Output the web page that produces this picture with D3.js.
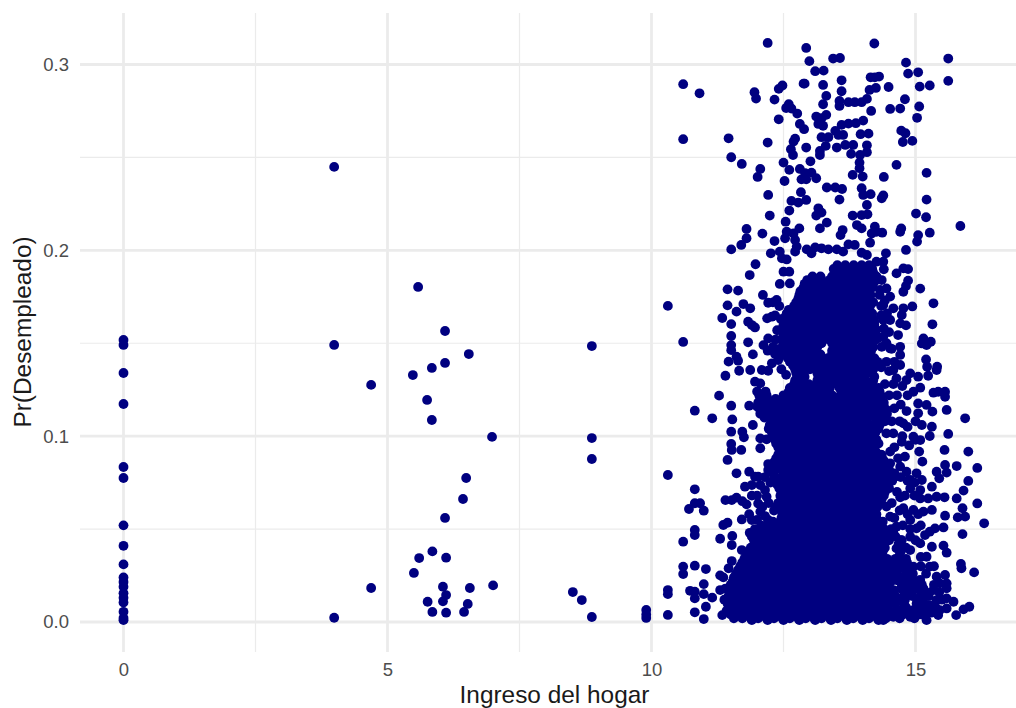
<!DOCTYPE html>
<html lang="es">
<head>
<meta charset="UTF-8">
<title>Pr(Desempleado)</title>
<script src="https://d3js.org/d3.v7.min.js"></script>
<style>
    html, body { margin: 0; padding: 0; background: white; overflow: hidden; }
    svg { display: block; font-family: "Liberation Sans", Arial, sans-serif; }
    .tick text { fill: #4d4d4d; font-size: 18.5px; }
</style>
</head>
<body>
<svg id="chart" width="1016" height="708"></svg>
<script>
// ticks
const xMajor = [0, 5, 10, 15];
const xMinor = [2.5, 7.5, 12.5];
const yMajor = [0, 0.1, 0.2, 0.3];
const yMinor = [0.05, 0.15, 0.25];

// households reporting zero income
const zeroIncome = [.1518,.1491,.134,.1173,.0834,.0775,.052,.041,.031,.024,.0215,.019,.0155,.013,.0105,.0055,.0022,.001];

// income, probability pairs
const sparsePoints = [
[3.99,.2449],[3.99,.1491],[3.99,.0023],[4.69,.1276],[4.69,.0183],[5.58,.1803],[5.48,.1329],[5.75,.1195],[5.84,.1087],[5.84,.1367],
[6.09,.1566],[6.09,.1394],[6.54,.1442],[6.98,.0996],[6.49,.0775],[6.43,.0662],[6.09,.056],[5.85,.038],[5.6,.0344],[6.11,.0346],
[5.5,.0264],[6.05,.019],[6.56,.0183],[7,.0197],[6.11,.0145],[6.05,.0111],[5.76,.0109],[6.52,.0097],[6.45,.0054],[5.85,.0054],[6.11,.005],
[8.51,.0161],[8.68,.0118],[8.87,.0027],[8.87,.1485],[8.87,.099],[8.87,.0877],[9.9,.0065],[9.9,.004],[9.9,.0022],
[10.31,.1701],[10.31,.0791],[10.31,.0172],[10.31,.015],[10.31,.0038]
];

const cloudTop = [
[12.2,.3116],[12.93,.3089],[12.99,.3018],[13.44,.3032],[13.57,.3035],[14.22,.3113],[14.82,.301],[15.62,.3032],[14.86,.2951],[15.05,.2958],
[13.1,.2964],[13.26,.2967],[15.62,.2912],[10.6,.2894],[10.91,.2845],[13.6,.2915],[12.88,.2897],[12.9,.2897],[13.25,.289],[12.48,.2887],
[12.41,.2869],[14.15,.2931],[14.31,.2935],[14.23,.2931],[14.49,.2879],[15.08,.2881],[15.27,.2887],[14.25,.2874],[14.13,.2863],[11.95,.2851],
[11.98,.2817],[12.33,.2811],[13.6,.2856],[13.31,.2831],[12.6,.2786],[12.55,.2766],[12.65,.2763],[12.76,.2736],[13.25,.2786],[13.56,.2804],
[13.56,.2777],[13.73,.2797],[13.85,.2797],[13.98,.2797],[14.08,.2815],[14.16,.275],[14.52,.2761],[14.71,.2763],[14.8,.2813],[15.07,.2774],
[15.03,.2713],[12.41,.2705],[13.12,.272],[13.31,.2729],[13.22,.2711],[13.16,.268],[13.25,.267],[12.81,.268],[12.89,.2652],[13.6,.2675],
[13.73,.2682],[13.87,.2684],[14.01,.2698],[13.48,.2643],[13.63,.2621],[13.54,.2621],[13.96,.2625],[14.11,.2628],[14.73,.2644],[14.81,.263],
[14.76,.2583],[14.94,.2589],[10.6,.2598],[11.46,.2603],[12.2,.258],[12.72,.2601],[12.69,.2585],[12.93,.2553],[13.22,.2609],[13.35,.2609],
[13.3,.2562],[13.51,.2553],[13.67,.2567],[13.82,.2567],[14.08,.2565],[12.64,.2544],[12.68,.2513],[13.19,.2513],[13.19,.2535],[13.78,.2519],
[14.08,.2528],[13.95,.2513],[11.51,.2501],[11.71,.2465],[12.06,.2438],[12.01,.2395],[12.5,.2472],[12.61,.2433],[13.01,.2479],[12.81,.2438],
[12.91,.2415],[13.03,.2418],[13.12,.2388],[12.84,.2382],[12.93,.2382],[12.52,.2373],[13.94,.2472],[13.94,.2442],[13.81,.2406],[14,.2397],
[14.64,.246],[14.4,.2395],[15.21,.2417],[12.21,.2298],[13.32,.2338],[13.48,.2338],[13.61,.233],[13.98,.2334],[14.01,.2298],[14.15,.2302],
[14.39,.2295],[14.36,.228],[15.21,.2273],[12.83,.2313],[12.65,.2266],[12.93,.2271],[12.78,.2257],[12.61,.2214],[13.56,.2273],[14.08,.2244],
[13.16,.2226],[13.22,.2203],[13.12,.2187],[12.24,.2187],[13.81,.2187],[13.98,.219],[14.09,.2194],[15.01,.2198],[15.2,.2178]
];

const cloudMiddle = [
[12.54,.2154],[11.8,.2115],[12.1,.209],[11.8,.2065],[11.7,.2029],[11.51,.2005],[12.33,.205],[12.56,.21],[12.53,.2065],[12.69,.2091],
[12.8,.2118],[12.72,.2056],[12.75,.202],[12.26,.1984],[12.43,.1993],[12.47,.1957],[12.56,.1951],[12.72,.1993],[13.19,.2118],[13.32,.2149],
[13.62,.2109],[13.58,.2082],[13.89,.2136],[13.98,.2118],[14.23,.2127],[14.17,.2091],[14.37,.2095],[14.26,.21],[14.14,.2041],[14.73,.2118],
[14.71,.21],[15.05,.2082],[15.03,.2047],[15.27,.2095],[15.85,.2131],[12.94,.2005],[13.03,.1984],[13.1,.2016],[13.22,.2011],[13.35,.2005],
[13.51,.2005],[13.63,.1993],[13.73,.2032],[13.85,.2029],[13.98,.1987],[14.08,.1975],[14.44,.1984],[14.82,.2002],[14.26,.1939],[14.39,.1939],
[14.4,.1898],[14.64,.1876],[14.77,.1903],[14.86,.1899],[14.86,.1837],[14.82,.1808],[14.77,.1777],[15.09,.1794],[11.97,.1925],[11.86,.1867],
[12.5,.1885],[12.61,.1885],[11.44,.179],[11.64,.1783],[12.11,.176],[12.43,.1819],[12.62,.1822],[11.44,.1704],[11.34,.1636],[11.51,.1603],
[11.61,.167],[11.74,.1711],[11.87,.1688],[11.83,.1616],[11.96,.1585],[11.9,.1598],[12.21,.1718],[12.37,.1733],[12.19,.1634],[12.28,.1643],
[15.34,.1715],[15.32,.1602],[14.94,.1698],[14.77,.1688],[14.74,.1652],[14.71,.1607],[14.82,.1596],[15.15,.1526],[15.29,.1508],[15.12,.1499],
[15.21,.149],[15.2,.1413],[15.22,.1374],[15.4,.1356],[15.24,.1325],[15.41,.1374],[10.6,.1507],[11.51,.1539],[11.51,.149],[11.51,.1463],
[11.83,.1505],[11.61,.1428],[11.46,.1401],[11.64,.1406],[11.66,.1352],[11.4,.1325],[11.92,.144],[11.87,.1356],[11.96,.1293],[12.06,.1284],
[12.09,.1356],[12.21,.1352],[12.12,.149],[12.21,.1526],[12.34,.1442],[12.28,.1392],[11.28,.1218],[11.51,.1164],[11.85,.1164],[10.82,.1137],
[11.15,.1096],[11.53,.109],[15.59,.1141],[15.94,.1096],[15.34,.1234],[15.56,.1239],[15.56,.1212],[15.43,.1239],[15.05,.1176],[15.21,.1168],
[15.32,.1132],[15.05,.1123],[14.83,.1135],[14.96,.1239],[15.09,.1261],[14.9,.1338],[15.05,.132],[14.83,.1302],[14.64,.1311],[14.58,.1356],
[14.71,.1383],[14.67,.1544],[14.71,.1481],[14.71,.1437],[14.52,.1472],[14.39,.1535],[14.36,.1481],[14.36,.184],[14.45,.1795],[14.33,.1787],
[14.52,.1751],[14.39,.1706],[14.58,.1688],[14.39,.1625],[14.52,.1625],[14.26,.1571]
];

const cloudLower = [
[11.92,.106],[11.51,.1024],[11.51,.0958],[11.52,.0926],[11.7,.0926],[11.44,.0872],[11.72,.1024],[11.75,.0994],[12.06,.0988],[12.18,.0983],
[12.06,.0935],[12.21,.085],[12.21,.0818],[11.61,.08],[11.85,.0809],[11.96,.0782],[12.02,.0782],[11.77,.0728],[11.9,.0737],[12.06,.0737],
[12.15,.071],[12.18,.0674],[11.4,.0656],[11.52,.0656],[11.61,.0669],[11.8,.0633],[12.02,.0638],[12.06,.0594],[11.9,.0549],[11.71,.0552],
[12.21,.0549],[11.36,.0522],[11.44,.0534],[10.82,.0714],[10.82,.0639],[10.71,.0608],[10.99,.0599],[10.92,.0639],[10.82,.0495],[10.82,.0468],
[11.3,.0448],[10.6,.0432],[11.53,.0463],[11.52,.0414],[11.71,.0387],[11.52,.0328],[10.6,.0298],[10.6,.0258],[10.82,.0303],[11.03,.0285],
[11.3,.0251],[11.46,.0289],[10.99,.0204],[10.73,.0168],[10.82,.0163],[10.99,.015],[10.82,.0127],[11.15,.0131],[11.3,.0172],[11.03,.0082],
[10.82,.0052],[10.99,.0016],[11.34,.0037],[15.62,.1012],[15.55,.0926],[16,.0917],[16.17,.0829],[16,.0759],[15.78,.0839],[15.56,.0845],
[15.4,.0809],[15.59,.0804],[15.45,.0773],[15.91,.0707],[15.78,.0665],[15.55,.0671],[16.17,.0638],[15.89,.0612],[15.8,.0563],[15.94,.0567],
[15.56,.0572],[16.3,.0531],[15.89,.0473],[15.53,.0509],[15.37,.0504],[15.27,.0486],[15.31,.0405],[15.53,.0411],[15.59,.0373],[15.86,.0312],
[15.87,.0289],[16.11,.0267],[15.56,.0253],[15.59,.0208],[15.59,.0181],[15.59,.0127],[15.72,.0109],[16.02,.0082],[15.91,.0068],[15.77,.0037],
[15.43,.0037],[15.21,.001],[15.31,.1051],[15.27,.1001],[15.09,.0979],[14.96,.0997],[14.74,.097],[14.58,.1015],[14.45,.1015],[14.26,.0979],
[14.77,.1069],[15.12,.106],[15.07,.0917],[15.13,.0863],[14.8,.089],[14.67,.0881],[14.52,.0917],[14.36,.0899],[14.39,.0872],[14.52,.0854],
[14.71,.0836],[14.83,.0809],[15.02,.08],[15.12,.0764],[14.9,.0764],[15.31,.0728],[15.09,.071],[14.9,.0719],[14.71,.0671],[15.09,.0665],
[15.24,.0665],[15.4,.0674],[15.31,.0603],[15.15,.0594],[14.96,.0603],[14.77,.0612],[14.9,.0549],[14.52,.0567],[14.45,.0621],[15.02,.0504],
[15.18,.0468],[14.9,.0459],[14.64,.0513],[15.09,.0423],[14.9,.0387],[14.64,.0396],[15.21,.0351],[15.27,.0298],[15.4,.0244],[15.46,.0208],
[15.34,.0172],[14.96,.0298],[14.71,.0333],[14.77,.0244],[15.09,.0226],[14.96,.0172],[14.64,.0226],[14.58,.0172],[15.4,.0118],[15.27,.0091],
[15.09,.0109],[14.96,.0064],[15.21,.0046],[14.9,.0028],[14.71,.0064],[14.58,.0028],[14.39,.001],[15.46,.0064],[15.59,.0073]
];

// crowded flanks of the cloud, estimated
const cloudFlanks = [
[12.3,.172],[12.42,.17],[12.34,.165],[12.45,.163],[12.38,.157],[12.35,.152],[12.42,.147],[12.3,.148],[12.4,.141],[12.46,.136],[12.55,.133],[12.2,.146],
[14.32,.176],[14.42,.173],[14.35,.17],[14.46,.166],[14.35,.165],[14.4,.158],[14.5,.156],[14.3,.153],[14.45,.15],[14.55,.147],[14.6,.14],[14.45,.14],
[14.5,.135],[14.35,.137],[14.58,.128],[14.42,.128],[14.5,.122],[14.65,.122],[14.75,.127],[14.6,.115],[14.72,.117],[14.85,.122],[14.55,.108],[14.7,.108],
[14.85,.105],[15,.108],[14.6,.094],[14.75,.1],[14.88,.095],[15,.098],[14.6,.078],[14.72,.078],[14.85,.076],[14.98,.075],[14.65,.07],[14.8,.068],
[14.98,.068],[14.55,.064],[14.7,.06],[14.85,.058],[15.05,.058],[14.6,.056],[14.76,.052],[14.9,.05],[15.1,.052],[14.72,.044],[14.82,.04],[15,.044],
[15.1,.035],[14.95,.026],[15.1,.03],[15.2,.026],[14.98,.02],[15.15,.018],[15.25,.014],[15.35,.02],[15.05,.012],[15.3,.005],[15.38,.008],[15.5,.012],
[15.45,.016],[15.2,.008],[15.12,.004],[15.35,.03],[12.15,.078],[12.25,.075],[11.9,.068],[12.1,.062],[12,.068],[12.22,.064],[11.72,.065],[11.85,.058],
[12,.055],[12.15,.057],[11.4,.018],[11.38,.012],[11.42,.006],[11.36,.024]
];

// solid core of the cloud, points can't be told apart here so these are estimates: [y, x, x, ...]
const coreRows = [
[.192,13.52,13.67,13.83,13.98,14.12],
[.19,13.45,13.6,13.75,13.9,14.05,14.18],
[.188,13.47,13.6,13.75,13.9,14.05,14.2],
[.186,13.05,13.2,13.42,13.55,13.7,13.85,14,14.14,14.26],
[.184,12.95,13.1,13.22,13.37,13.52,13.68,13.82,13.97,14.1,14.26],
[.182,12.9,13.02,13.16,13.3,13.44,13.6,13.74,13.9,14.04,14.2],
[.18,12.88,13.03,13.18,13.3,13.45,13.6,13.75,13.9,14.04,14.18],
[.178,12.82,12.96,13.12,13.26,13.38,13.52,13.68,13.82,13.96,14.12],
[.176,12.8,12.95,13.1,13.25,13.4,13.55,13.7,13.85,14,14.15],
[.174,12.78,12.92,13.06,13.2,13.36,13.5,13.64,13.8,13.94,14.1],
[.172,12.74,12.88,13.03,13.18,13.33,13.48,13.62,13.78,13.92,14.08,14.2],
[.17,12.7,12.82,12.96,13.12,13.26,13.4,13.56,13.7,13.86,14,14.14],
[.168,12.6,12.74,12.9,13.05,13.2,13.35,13.5,13.66,13.8,13.95,14.1],
[.166,12.56,12.68,12.82,12.98,13.12,13.28,13.42,13.58,13.72,13.88,14.02,14.18],
[.164,12.53,12.68,12.82,12.97,13.12,13.27,13.42,13.57,13.72,13.87,14.02,14.18],
[.162,12.5,12.6,12.76,12.9,13.06,13.2,13.34,13.5,13.64,13.8,13.94,14.1,14.22],
[.16,12.5,12.62,12.76,12.9,13.05,13.2,13.35,13.5,13.65,13.8,13.95,14.1,14.22],
[.158,12.48,12.64,12.78,12.94,13.08,13.24,13.38,13.54,13.68,13.84,13.98,14.14],
[.156,12.55,12.7,12.84,12.98,13.13,13.28,13.43,13.58,13.73,13.88,14.03,14.18],
[.154,12.5,12.66,12.8,12.96,13.1,13.24,13.4,13.54,13.7,13.84,14,14.14,14.24],
[.152,12.46,12.62,12.76,12.92,13.06,13.2,13.36,13.5,13.66,13.8,13.96,14.1,14.25],
[.15,12.5,12.64,12.8,12.94,13.1,13.22,13.42,13.56,13.72,13.86,14.02,14.16],
[.148,12.55,12.68,12.84,13,13.14,13.47,13.6,13.75,13.9,14.05,14.2],
[.146,12.52,12.66,12.8,12.96,13.12,13.42,13.56,13.7,13.86,14,14.16],
[.144,12.5,12.62,12.76,12.92,13.08,13.2,13.42,13.54,13.68,13.84,13.98,14.12],
[.142,12.58,12.72,12.88,13.02,13.18,13.34,13.48,13.62,13.78,13.92,14.08,14.22],
[.14,12.62,12.78,12.92,13.06,13.22,13.36,13.5,13.66,13.8,13.96,14.1,14.28],
[.138,12.68,12.82,12.96,13.12,13.26,13.42,13.56,13.72,13.86,14.02,14.16],
[.136,12.72,12.86,13,13.16,13.3,13.44,13.6,13.74,13.88,14.04,14.2],
[.134,12.74,12.88,13.14,13.28,13.42,13.58,13.72,13.88,14.02,14.18],
[.132,12.76,12.9,13.16,13.3,13.46,13.6,13.76,13.9,14.04,14.22],
[.13,12.72,12.86,13.14,13.28,13.44,13.6,13.74,13.9,14.04,14.2],
[.128,12.7,12.84,12.98,13.12,13.26,13.4,13.52,13.72,13.86,14.02,14.18],
[.126,12.62,12.78,12.92,13.06,13.22,13.38,13.56,13.7,13.84,14,14.14,14.3],
[.124,12,12.16,12.6,12.76,12.9,13.05,13.2,13.36,13.6,13.74,13.9,14.04,14.2,14.32],
[.122,12.04,12.18,12.5,12.66,12.82,12.98,13.12,13.28,13.42,13.58,13.72,13.88,14.02,14.18,14.34],
[.12,12.06,12.2,12.35,12.5,12.66,12.8,12.96,13.1,13.26,13.4,13.56,13.7,13.86,14,14.16,14.34],
[.118,12.02,12.14,12.28,12.44,12.58,12.74,12.88,13.04,13.2,13.34,13.5,13.64,13.8,13.94,14.1,14.26,14.4],
[.116,12,12.14,12.28,12.44,12.58,12.74,12.88,13.04,13.18,13.34,13.48,13.64,13.78,13.94,14.08,14.24,14.4],
[.114,12.06,12.2,12.36,12.5,12.66,12.8,12.96,13.12,13.26,13.42,13.56,13.72,13.86,14.02,14.16,14.32,14.46],
[.112,12.06,12.2,12.36,12.5,12.66,12.8,12.96,13.1,13.26,13.42,13.56,13.72,13.86,14.02,14.16,14.32,14.46],
[.11,12.14,12.28,12.44,12.58,12.74,12.88,13.04,13.18,13.34,13.48,13.64,13.78,13.94,14.08,14.24,14.4],
[.108,12.28,12.44,12.58,12.74,12.88,13.04,13.18,13.34,13.48,13.64,13.78,13.94,14.08,14.26,14.42],
[.106,12.24,12.38,12.52,12.68,12.82,12.98,13.12,13.28,13.42,13.58,13.72,13.88,14.02,14.18,14.32],
[.104,12.22,12.36,12.5,12.66,12.8,12.96,13.1,13.26,13.42,13.56,13.72,13.86,14.02,14.16,14.3],
[.102,12.28,12.44,12.58,12.74,12.88,13.04,13.18,13.34,13.48,13.64,13.78,13.94,14.08,14.24],
[.1,12.3,12.44,12.58,12.74,12.88,13.04,13.18,13.34,13.48,13.64,13.78,13.94,14.08,14.22],
[.098,12.34,12.48,12.62,12.78,12.92,13.08,13.22,13.38,13.52,13.68,13.82,13.98,14.12,14.26],
[.096,12.36,12.5,12.66,12.8,12.96,13.1,13.26,13.42,13.56,13.72,13.86,14.02,14.16,14.3],
[.094,12.4,12.54,12.7,12.84,13,13.14,13.3,13.44,13.6,13.74,13.9,14.04,14.2],
[.092,12.44,12.58,12.74,12.88,13.04,13.18,13.34,13.48,13.64,13.78,13.94,14.08,14.24],
[.09,12.4,12.54,12.7,12.84,13,13.14,13.3,13.44,13.6,13.76,13.9,14.06,14.2,14.34],
[.088,12.36,12.5,12.66,12.8,12.96,13.1,13.26,13.42,13.56,13.72,13.86,14.02,14.16,14.3],
[.086,12.32,12.46,12.62,12.76,12.92,13.06,13.22,13.38,13.52,13.68,13.82,13.98,14.12,14.28,14.42],
[.084,12.3,12.44,12.58,12.74,12.88,13.04,13.18,13.34,13.48,13.64,13.78,13.94,14.08,14.24,14.38],
[.082,12.36,12.52,12.68,12.82,12.98,13.12,13.28,13.42,13.58,13.72,13.88,14.02,14.18,14.34,14.5],
[.08,12.3,12.5,12.66,12.8,12.96,13.1,13.26,13.42,13.56,13.72,13.86,14.02,14.16,14.32,14.46,14.6],
[.078,12.34,12.48,12.62,12.78,12.92,13.08,13.22,13.38,13.52,13.68,13.82,13.98,14.12,14.28,14.42,14.58],
[.076,12.3,12.44,12.58,12.74,12.88,13.04,13.18,13.34,13.48,13.64,13.78,13.94,14.08,14.24,14.4,14.56],
[.074,12.38,12.52,12.68,12.82,12.98,13.12,13.28,13.42,13.58,13.72,13.88,14.02,14.18,14.34,14.48],
[.072,12.42,12.56,12.72,12.86,13.02,13.16,13.32,13.46,13.62,13.76,13.92,14.06,14.22,14.36,14.5],
[.07,12.46,12.6,12.76,12.9,13.06,13.2,13.36,13.5,13.66,13.8,13.96,14.1,14.26,14.42],
[.068,12.44,12.58,12.74,12.88,13.04,13.18,13.34,13.48,13.64,13.78,13.94,14.08,14.24,14.4],
[.066,12.46,12.6,12.74,12.9,13.04,13.2,13.34,13.5,13.64,13.8,13.94,14.1,14.24,14.36],
[.064,12.4,12.52,12.66,12.8,12.96,13.1,13.26,13.42,13.56,13.72,13.86,14.02,14.16,14.32],
[.062,12.36,12.5,12.62,12.78,12.92,13.08,13.22,13.38,13.52,13.68,13.82,13.98,14.12,14.28],
[.06,12.32,12.46,12.58,12.74,12.88,13.04,13.18,13.34,13.48,13.64,13.78,13.94,14.08,14.24],
[.058,12.48,12.6,12.76,12.9,13.06,13.2,13.36,13.5,13.66,13.8,13.96,14.1,14.26],
[.056,12.46,12.62,12.76,12.92,13.06,13.22,13.36,13.52,13.66,13.82,13.96,14.12,14.26],
[.054,12.3,12.44,12.58,12.74,12.88,13.04,13.18,13.34,13.48,13.64,13.78,13.94,14.08,14.24,14.38],
[.052,12.08,12.24,12.4,12.54,12.7,12.84,13,13.14,13.3,13.44,13.6,13.74,13.9,14.04,14.2,14.36],
[.05,11.96,12.12,12.28,12.42,12.58,12.72,12.88,13.02,13.18,13.32,13.48,13.62,13.78,13.92,14.08,14.24,14.4,14.54],
[.048,11.86,12,12.16,12.32,12.46,12.62,12.76,12.92,13.06,13.22,13.36,13.52,13.66,13.82,13.96,14.12,14.28,14.44,14.58],
[.046,11.9,12.04,12.2,12.36,12.5,12.66,12.8,12.96,13.1,13.26,13.4,13.56,13.7,13.86,14,14.16,14.32,14.46,14.62],
[.044,11.94,12.08,12.24,12.4,12.54,12.7,12.84,13,13.14,13.3,13.44,13.6,13.74,13.9,14.04,14.2,14.36,14.5,14.74],
[.042,11.98,12.12,12.28,12.44,12.58,12.74,12.88,13.04,13.18,13.34,13.48,13.64,13.78,13.94,14.08,14.24,14.4,14.68],
[.04,11.88,12,12.16,12.32,12.46,12.62,12.76,12.92,13.06,13.22,13.36,13.52,13.66,13.82,13.96,14.12,14.28,14.42,14.76],
[.038,11.84,11.98,12.12,12.28,12.44,12.58,12.74,12.88,13.04,13.18,13.34,13.48,13.64,13.78,13.94,14.08,14.24,14.38,14.72],
[.036,11.8,11.94,12.08,12.24,12.4,12.54,12.7,12.84,13,13.14,13.3,13.44,13.6,13.74,13.9,14.04,14.2,14.36,14.7],
[.034,11.76,11.9,12.04,12.2,12.36,12.5,12.66,12.8,12.96,13.1,13.26,13.4,13.56,13.7,13.86,14,14.16,14.32,14.46,14.62,14.82],
[.032,11.72,11.86,12,12.16,12.32,12.46,12.62,12.76,12.92,13.06,13.22,13.36,13.52,13.66,13.82,13.96,14.12,14.28,14.44,14.56,14.84],
[.03,11.68,11.82,11.96,12.12,12.28,12.44,12.58,12.74,12.88,13.04,13.18,13.34,13.48,13.64,13.78,13.94,14.08,14.24,14.4,14.54,14.7,14.86],
[.028,11.64,11.8,11.94,12.08,12.24,12.4,12.54,12.7,12.84,13,13.14,13.3,13.44,13.6,13.74,13.9,14.04,14.2,14.36,14.5,14.66,14.82],
[.026,11.6,11.76,11.9,12.04,12.2,12.36,12.5,12.66,12.8,12.96,13.1,13.26,13.4,13.56,13.7,13.86,14,14.16,14.32,14.46,14.62,14.86],
[.024,11.56,11.72,11.86,12,12.16,12.32,12.46,12.62,12.76,12.92,13.06,13.22,13.36,13.52,13.66,13.82,13.96,14.12,14.28,14.44,14.58,14.9],
[.022,11.54,11.68,11.82,11.96,12.12,12.28,12.44,12.58,12.74,12.88,13.04,13.18,13.34,13.48,13.64,13.78,13.94,14.08,14.24,14.4,14.54,14.7,14.86,15.02],
[.02,11.5,11.64,11.8,11.94,12.08,12.24,12.4,12.54,12.7,12.84,13,13.14,13.3,13.44,13.6,13.74,13.9,14.04,14.2,14.36,14.5,14.8,15.12],
[.018,11.48,11.6,11.76,11.9,12.04,12.2,12.36,12.5,12.66,12.8,12.96,13.1,13.26,13.4,13.56,13.7,13.86,14,14.16,14.32,14.46,14.72,14.88,15.06],
[.016,11.5,11.56,11.72,11.86,12,12.16,12.32,12.46,12.62,12.76,12.92,13.06,13.22,13.36,13.52,13.66,13.82,13.96,14.12,14.28,14.44,14.8,15.2],
[.014,11.46,11.58,11.74,11.88,12.02,12.18,12.34,12.48,12.64,12.78,12.94,13.08,13.24,13.38,13.54,13.68,13.84,13.98,14.14,14.3,14.46,14.62,14.78,14.94,15.1],
[.012,11.44,11.6,11.76,11.9,12.04,12.2,12.36,12.5,12.66,12.8,12.96,13.1,13.26,13.4,13.56,13.7,13.86,14,14.16,14.32,14.48,14.64,14.8,15.14],
[.01,11.44,11.58,11.74,11.88,12.02,12.18,12.34,12.48,12.64,12.78,12.94,13.08,13.24,13.38,13.54,13.68,13.84,13.98,14.14,14.3,14.46,14.62,14.78,15.02,15.16],
[.008,11.46,11.62,11.76,11.92,12.06,12.22,12.36,12.52,12.66,12.82,12.96,13.12,13.26,13.42,13.56,13.72,13.86,14.02,14.16,14.32,14.48,14.82],
[.006,11.48,11.6,11.74,11.9,12.04,12.2,12.34,12.5,12.64,12.8,12.94,13.1,13.24,13.4,13.54,13.7,13.84,14,14.14,14.3,14.46,14.62,14.78,14.94,15.1],
[.004,11.5,11.66,11.82,11.96,12.12,12.26,12.42,12.56,12.72,12.86,13.02,13.16,13.32,13.46,13.62,13.76,13.92,14.06,14.22,14.38,14.54,14.76,15.06],
[.002,11.56,11.72,11.88,12.02,12.18,12.32,12.48,12.62,12.78,12.92,13.08,13.22,13.38,13.52,13.68,13.82,13.98,14.12,14.28,14.44,14.7,14.98],
[.001,11.9,12.2,12.5,12.8,13.1,13.4,13.7,14,14.3]
];

const panel = {left: 80, right: 1016, top: 13, bottom: 652};

const x = d3.scaleLinear().domain([0, 15]).range([123.5, 915.5]);
const y = d3.scaleLinear().domain([0, 0.3]).range([622, 64.5]);

const svg = d3.select("#chart");

// gridlines
const grid = svg.append("g");
function vLines(vals, w) {
    grid.selectAll(null).data(vals).enter().append("line")
        .attr("x1", d => x(d)).attr("x2", d => x(d))
        .attr("y1", panel.top).attr("y2", panel.bottom)
        .attr("stroke", "#ebebeb").attr("stroke-width", w);
}
function hLines(vals, w) {
    grid.selectAll(null).data(vals).enter().append("line")
        .attr("y1", d => y(d)).attr("y2", d => y(d))
        .attr("x1", panel.left).attr("x2", panel.right)
        .attr("stroke", "#ebebeb").attr("stroke-width", w);
}
vLines(xMinor, 1.2);
hLines(yMinor, 1.2);
vLines(xMajor, 2.8);
hLines(yMajor, 2.8);

// axes
const xAxis = d3.axisBottom(x).tickValues(xMajor).tickSize(0).tickPadding(0).tickFormat(d3.format("d"));
const yAxis = d3.axisLeft(y).tickValues(yMajor).tickSize(0).tickPadding(0).tickFormat(d3.format(".1f"));
svg.append("g").attr("transform", "translate(0,663)").call(xAxis).call(g => g.select(".domain").remove());
svg.append("g").attr("transform", "translate(69,0)").call(yAxis).call(g => g.select(".domain").remove());

// points
const allPoints = zeroIncome.map(v => [0, v])
    .concat(sparsePoints, cloudTop, cloudMiddle, cloudLower, cloudFlanks,
        coreRows.flatMap(r => r.slice(1).map(v => [v, r[0]])));

svg.append("g").selectAll("circle")
    .data(allPoints)
    .enter()
    .append("circle")
    .attr("cx", d => x(d[0]))
    .attr("cy", d => y(d[1]))
    .attr("r", 4.9)
    .attr("fill", "#000080");

// axis titles
svg.append("text")
    .attr("x", 554.5).attr("y", 703)
    .attr("text-anchor", "middle")
    .attr("font-size", 24.4)
    .attr("fill", "#1a1a1a")
    .text("Ingreso del hogar");
svg.append("text")
    .attr("transform", "translate(31,332) rotate(-90)")
    .attr("text-anchor", "middle")
    .attr("font-size", 24.4)
    .attr("fill", "#1a1a1a")
    .text("Pr(Desempleado)");
</script>
</body>
</html>
